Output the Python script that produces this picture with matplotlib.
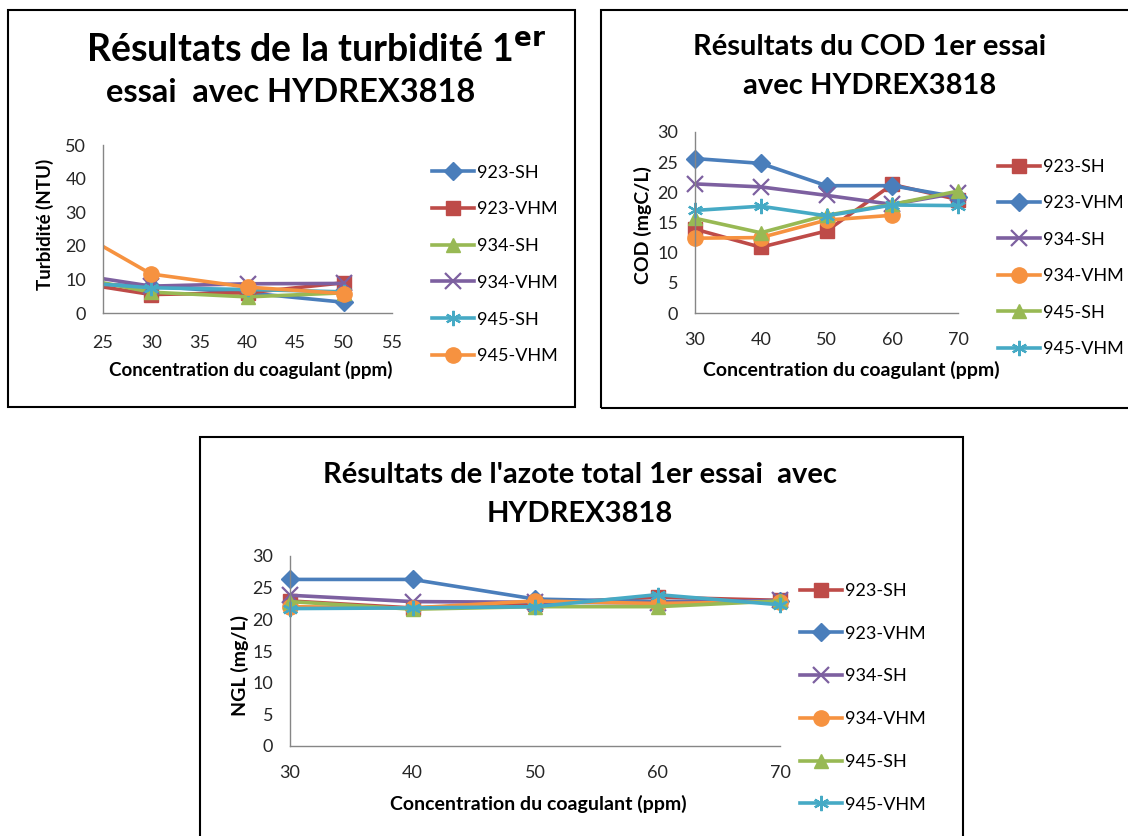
import matplotlib
matplotlib.use("Agg")
import matplotlib.pyplot as plt
import numpy as np
from matplotlib.patches import Rectangle

plt.rcParams['font.family'] = ['Lato', 'DejaVu Sans']

# ---------------- data ----------------
turb_x = [20, 30, 40, 50]
turb_labels = ["923-SH", "923-VHM", "934-SH", "934-VHM", "945-SH", "945-VHM"]
turb_923_sh = [9.0, 8.0, 6.0, 3.2]
turb_923_vhm = [10.0, 5.5, 6.0, 9.0]
turb_934_sh = [11.8, 6.2, 4.8, 6.0]
turb_934_vhm = [12.4, 8.0, 8.7, 8.8]
turb_945_sh = [9.6, 7.5, 7.0, 6.3]
turb_945_vhm = [28.0, 11.6, 7.7, 5.8]

cod_x = [30, 40, 50, 60, 70]
cod_labels = ["923-SH", "923-VHM", "934-SH", "934-VHM", "945-SH", "945-VHM"]
cod_923_sh = [13.9, 10.9, 13.6, 21.3, 18.8]
cod_923_vhm = [25.6, 24.8, 21.1, 21.1, 19.2]
cod_934_sh = [21.4, 20.9, 19.5, 18.0, 19.9]
cod_934_vhm = [12.4, 12.5, 15.4, 16.2, np.nan]
cod_945_sh = [15.7, 13.3, 16.2, 18.0, 20.2]
cod_945_vhm = [17.0, 17.7, 16.1, 17.9, 17.8]

ngl_x = [30, 40, 50, 60, 70]
ngl_labels = ["923-SH", "923-VHM", "934-SH", "934-VHM", "945-SH", "945-VHM"]
ngl_923_sh = [22.9, 21.8, 22.5, 23.5, 23.0]
ngl_923_vhm = [26.3, 26.3, 23.2, 22.8, 22.9]
ngl_934_sh = [23.8, 22.8, 22.7, 22.6, 23.0]
ngl_934_vhm = [22.0, 21.8, 22.9, 22.5, 22.8]
ngl_945_sh = [22.8, 21.6, 22.0, 22.0, 22.9]
ngl_945_vhm = [21.7, 21.8, 22.0, 23.9, 22.3]

# ---------------- styles ----------------
BLUE = "#4A7EBB"; RED = "#BE4B48"; GREEN = "#98B954"
PURPLE = "#7D60A0"; TEAL = "#46AAC5"; ORANGE = "#F69240"
STAR = (6, 2, 0)

W, H = 1128, 836
fig = plt.figure(figsize=(W / 100, H / 100), dpi=100)
fig.patch.set_facecolor("white")

def fx(px):
    return px / W

def fy(py):
    return 1 - py / H

def axes_px(x0, x1, ytop, ybot):
    return fig.add_axes([fx(x0), fy(ybot), fx(x1) - fx(x0), (ybot - ytop) / H])

def style_axes(ax, xpad):
    for s in ["top", "right"]:
        ax.spines[s].set_visible(False)
    for s in ["left", "bottom"]:
        ax.spines[s].set_color("#868686")
        ax.spines[s].set_linewidth(1.0)
    ax.tick_params(length=0, labelsize=13, colors="#262626")
    ax.tick_params(axis="x", pad=xpad)
    ax.tick_params(axis="y", pad=12)
    ax.set_facecolor("none")

def draw_series(ax, x, ys, styles, clip):
    handles = []
    for y, (lab, col, mk, ms) in zip(ys, styles):
        if mk in ("x", STAR):
            ln, = ax.plot(x, y, color=col, lw=2.6, marker=mk, ms=ms + 2,
                          mec=col, mew=1.6, mfc="none", label=lab, clip_on=clip)
        else:
            ln, = ax.plot(x, y, color=col, lw=2.6, marker=mk, ms=ms,
                          mec=col, mfc=col, label=lab, clip_on=clip)
        handles.append(ln)
    return handles

def add_legend(handles, x, ytop, spacing):
    fig.legend(handles=handles, loc="upper left", bbox_to_anchor=(fx(x), fy(ytop)),
               frameon=False, fontsize=13, handlelength=2.3, handletextpad=0.2,
               labelspacing=spacing, borderpad=0, borderaxespad=0)

# panel borders
for (x0, y0, x1, y1) in [(8, 10, 575, 407), (601, 10, 1140, 408), (200, 437, 963, 850)]:
    fig.add_artist(Rectangle((fx(x0), fy(y1)), fx(x1) - fx(x0), (y1 - y0) / H,
                             transform=fig.transFigure, fill=False,
                             edgecolor="black", lw=1.5))

# ---------------- panel 1: turbidity ----------------
ax1 = axes_px(103, 392, 145, 313)
style_axes(ax1, 15.5)
st1 = [(turb_labels[0], BLUE, "D", 9), (turb_labels[1], RED, "s", 10),
       (turb_labels[2], GREEN, "^", 10), (turb_labels[3], PURPLE, "x", 9),
       (turb_labels[4], TEAL, STAR, 9), (turb_labels[5], ORANGE, "o", 11)]
h1 = draw_series(ax1, turb_x,
                 [turb_923_sh, turb_923_vhm, turb_934_sh, turb_934_vhm, turb_945_sh, turb_945_vhm],
                 st1, True)
ax1.set_xlim(25, 55)
ax1.set_ylim(0, 50)
ax1.set_xticks(np.arange(25, 56, 5))
ax1.set_yticks(np.arange(0, 51, 10))
fig.text(fx(316), fy(51), "Résultats de la turbidité 1$^{\\mathbf{er}}$", ha="center", va="center",
         fontsize=27, fontweight="bold")
fig.text(fx(291), fy(93), "essai  avec HYDREX3818", ha="center", va="center",
         fontsize=23.5, fontweight="bold")
fig.text(fx(251), fy(370), "Concentration du coagulant (ppm)", ha="center", va="center",
         fontsize=13.5, fontweight="bold")
fig.text(fx(45), fy(224), "Turbidité (NTU)", ha="center", va="center", rotation=90,
         fontsize=13.5, fontweight="bold")
add_legend(h1, 432, 164.5, 1.15)

# ---------------- panel 2: COD ----------------
ax2 = axes_px(695, 958, 132, 313)
style_axes(ax2, 13.5)
st2 = [(cod_labels[0], RED, "s", 10), (cod_labels[1], BLUE, "D", 9),
       (cod_labels[2], PURPLE, "x", 9), (cod_labels[3], ORANGE, "o", 11),
       (cod_labels[4], GREEN, "^", 10), (cod_labels[5], TEAL, STAR, 9)]
h2 = draw_series(ax2, cod_x,
                 [cod_923_sh, cod_923_vhm, cod_934_sh, cod_934_vhm, cod_945_sh, cod_945_vhm],
                 st2, False)
ax2.set_xlim(30, 70)
ax2.set_ylim(0, 30)
ax2.set_xticks(np.arange(30, 71, 10))
ax2.set_yticks(np.arange(0, 31, 5))
fig.text(fx(870), fy(47), "Résultats du COD 1er essai", ha="center", va="center",
         fontsize=21, fontweight="bold")
fig.text(fx(870), fy(86), "avec HYDREX3818", ha="center", va="center",
         fontsize=21, fontweight="bold")
fig.text(fx(851), fy(370), "Concentration du coagulant (ppm)", ha="center", va="center",
         fontsize=14, fontweight="bold")
fig.text(fx(643), fy(225), "COD (mgC/L)", ha="center", va="center", rotation=90,
         fontsize=14, fontweight="bold")
add_legend(h2, 998, 159, 1.13)

# ---------------- panel 3: NGL ----------------
ax3 = axes_px(290, 780, 556, 746)
style_axes(ax3, 13.5)
st3 = st2
h3 = draw_series(ax3, ngl_x,
                 [ngl_923_sh, ngl_923_vhm, ngl_934_sh, ngl_934_vhm, ngl_945_sh, ngl_945_vhm],
                 st3, False)
ax3.set_xlim(30, 70)
ax3.set_ylim(0, 30)
ax3.set_xticks(np.arange(30, 71, 10))
ax3.set_yticks(np.arange(0, 31, 5))
fig.text(fx(580), fy(475), "Résultats de l'azote total 1er essai  avec", ha="center", va="center",
         fontsize=21, fontweight="bold")
fig.text(fx(580), fy(514), "HYDREX3818", ha="center", va="center",
         fontsize=21, fontweight="bold")
fig.text(fx(538), fy(804), "Concentration du coagulant (ppm)", ha="center", va="center",
         fontsize=14, fontweight="bold")
fig.text(fx(240), fy(665), "NGL (mg/L)", ha="center", va="center", rotation=90,
         fontsize=14, fontweight="bold")
add_legend(h3, 800, 583, 1.48)

fig.savefig("out.png", dpi=100, facecolor="white")
